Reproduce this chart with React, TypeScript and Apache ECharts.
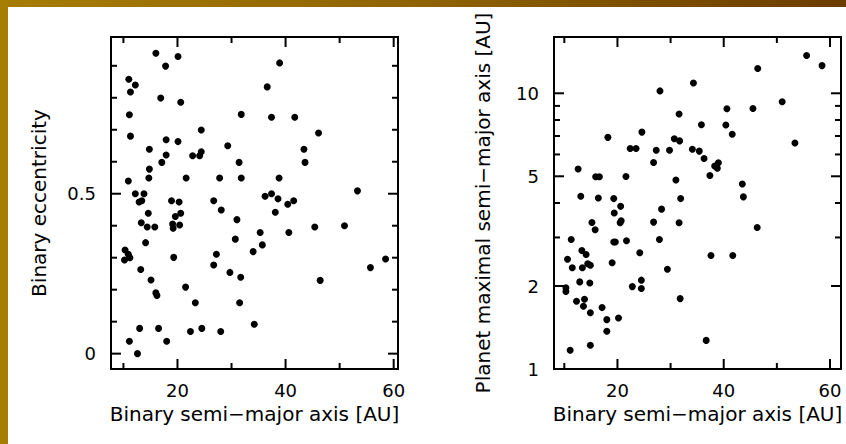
import React, { useEffect, useRef } from "react";
import * as echarts from "echarts";

// Left panel: binary semi-major axis [AU] vs binary eccentricity
const eccPoints: [number, number][] = [
  [16.0, 0.939], [20.1, 0.929], [17.8, 0.899], [38.9, 0.909], [11.0, 0.858], [12.2, 0.84], [11.3, 0.818],
  [36.6, 0.834], [16.9, 0.799], [20.6, 0.786], [31.8, 0.748], [11.1, 0.747], [37.4, 0.739], [41.7, 0.739],
  [24.4, 0.699], [46.1, 0.69], [11.3, 0.68], [17.9, 0.669], [20.1, 0.663], [29.3, 0.65], [14.8, 0.639],
  [43.4, 0.639], [17.9, 0.621], [22.8, 0.619], [24.1, 0.619], [24.4, 0.631], [17.1, 0.598], [31.4, 0.598],
  [43.6, 0.598], [14.8, 0.577], [14.7, 0.549], [21.6, 0.549], [27.8, 0.549], [31.8, 0.549], [38.8, 0.549],
  [10.9, 0.54], [12.2, 0.5], [13.8, 0.5], [12.9, 0.474], [13.4, 0.478], [53.3, 0.509], [36.2, 0.492],
  [37.4, 0.5], [38.6, 0.484], [18.9, 0.478], [20.3, 0.474], [26.7, 0.478], [40.4, 0.467], [41.5, 0.478],
  [28.1, 0.449], [14.6, 0.439], [20.6, 0.439], [19.6, 0.429], [38.1, 0.442], [31.0, 0.419], [13.3, 0.409],
  [14.4, 0.396], [15.8, 0.396], [19.1, 0.405], [19.2, 0.392], [20.4, 0.402], [45.4, 0.396], [50.9, 0.4],
  [35.3, 0.379], [40.6, 0.379], [30.7, 0.358], [35.7, 0.34], [14.1, 0.347], [10.3, 0.324], [10.9, 0.311],
  [11.2, 0.3], [10.2, 0.293], [19.3, 0.301], [34.0, 0.319], [27.2, 0.311], [26.7, 0.277], [58.5, 0.296],
  [55.7, 0.269], [13.2, 0.263], [29.7, 0.254], [31.7, 0.239], [15.1, 0.23], [46.4, 0.229], [16.0, 0.19],
  [16.2, 0.182], [21.5, 0.208], [23.3, 0.159], [31.5, 0.159], [34.2, 0.092], [13.0, 0.079], [16.5, 0.079],
  [22.4, 0.069], [24.5, 0.079], [28.0, 0.069], [11.1, 0.039], [18.0, 0.039], [12.6, 0.0],
];

// Right panel: binary semi-major axis [AU] vs planet maximal semi-major axis [AU]
const planetPoints: [number, number][] = [
  [55.6, 13.7], [58.5, 12.6], [46.4, 12.3], [34.3, 10.9], [28.0, 10.2], [51.0, 9.32], [40.6, 8.79],
  [45.5, 8.8], [31.6, 8.41], [35.8, 7.69], [40.4, 7.67], [24.6, 7.23], [41.6, 7.1], [18.2, 6.92],
  [30.7, 6.84], [31.7, 6.72], [53.4, 6.6], [22.4, 6.31], [23.5, 6.31], [27.3, 6.21], [29.8, 6.21],
  [34.1, 6.27], [35.4, 6.17], [36.3, 5.8], [26.8, 5.61], [38.3, 5.45], [39.0, 5.6], [38.8, 5.35],
  [37.4, 5.03], [12.6, 5.31], [15.9, 4.98], [16.6, 4.98], [21.6, 4.99], [31.0, 4.85], [43.5, 4.69],
  [13.1, 4.23], [16.4, 4.17], [19.3, 4.15], [31.9, 4.15], [43.7, 4.21], [20.6, 3.89], [28.3, 3.8],
  [19.4, 3.68], [15.2, 3.4], [20.5, 3.39], [20.7, 3.45], [26.8, 3.41], [31.6, 3.39], [46.3, 3.26],
  [15.8, 3.2], [11.3, 2.95], [19.3, 2.89], [19.6, 2.89], [21.7, 2.92], [27.9, 2.95], [13.3, 2.69],
  [14.1, 2.6], [24.2, 2.64], [37.6, 2.58], [41.7, 2.58], [10.6, 2.5], [11.5, 2.33], [13.4, 2.33],
  [14.4, 2.41], [14.9, 2.38], [19.0, 2.43], [29.4, 2.3], [12.9, 2.07], [14.8, 2.05], [24.5, 2.1],
  [24.5, 1.96], [22.8, 1.99], [10.3, 1.97], [10.3, 1.91], [12.3, 1.76], [13.8, 1.79], [13.6, 1.69],
  [17.1, 1.67], [14.9, 1.6], [31.8, 1.8], [18.0, 1.51], [20.2, 1.53], [18.0, 1.37], [14.9, 1.22],
  [36.7, 1.27], [11.1, 1.17],
];

const leftXRange = [7.7, 60.8];
const leftYRange = [-0.048, 0.99];
const rightXRange = [8.06, 62.07];
const rightYRange = [1, 16];

const xMajorTicks = [20, 40, 60];
const xMinorTicks = [10, 30, 50];
const leftYMajorTicks = [0, 0.5];
const leftYMinorTicks = [0.1, 0.2, 0.3, 0.4, 0.6, 0.7, 0.8, 0.9];
const rightYMajorTicks = [1, 2, 5, 10];
const rightYMinorTicks = [3, 4, 6, 7, 8, 9];

const xTitle = "Binary semi\u2212major axis [AU]";
const leftYTitle = "Binary eccentricity";
const rightYTitle = "Planet maximal semi\u2212major axis [AU]";

const FONT = "DejaVu Sans";

export default function App() {
  const ref = useRef<HTMLDivElement>(null);

  useEffect(() => {
    if (!ref.current) return;
    const chart = echarts.init(ref.current, null, { renderer: "svg" });

    const labelStyle = { fontSize: 18, fontFamily: FONT, color: "#000" };
    const nameStyle = { fontSize: 20, fontFamily: FONT, color: "#000" };

    chart.setOption({
      animation: false,
      grid: [
        { left: 111, right: 448, top: 37, bottom: 75, show: true, borderColor: "#000", borderWidth: 2, backgroundColor: "transparent" },
        { left: 554, right: 5, top: 37, bottom: 75, show: true, borderColor: "#000", borderWidth: 2, backgroundColor: "transparent" },
      ],
      xAxis: [
        {
          gridIndex: 0, type: "value", min: leftXRange[0], max: leftXRange[1],
          axisLine: { show: false }, axisTick: { show: false }, splitLine: { show: false },
          axisLabel: { ...labelStyle, customValues: xMajorTicks, margin: 12 },
          name: xTitle, nameLocation: "middle", nameGap: 33, nameTextStyle: nameStyle,
        },
        {
          gridIndex: 1, type: "value", min: rightXRange[0], max: rightXRange[1],
          axisLine: { show: false }, axisTick: { show: false }, splitLine: { show: false },
          axisLabel: { ...labelStyle, customValues: xMajorTicks, margin: 12 },
          name: xTitle, nameLocation: "middle", nameGap: 33, nameTextStyle: nameStyle,
        },
      ],
      yAxis: [
        {
          gridIndex: 0, type: "value", min: leftYRange[0], max: leftYRange[1],
          axisLine: { show: false }, axisTick: { show: false }, splitLine: { show: false },
          axisLabel: { ...labelStyle, customValues: leftYMajorTicks, margin: 15 },
          name: leftYTitle, nameLocation: "middle", nameGap: 62, nameTextStyle: nameStyle,
        },
        {
          gridIndex: 1, type: "log", logBase: 10, min: rightYRange[0], max: rightYRange[1],
          axisLine: { show: false }, axisTick: { show: false }, splitLine: { show: false },
          axisLabel: { show: false },
          name: rightYTitle, nameLocation: "middle", nameGap: 61, nameTextStyle: nameStyle,
        },
      ],
      series: [
        {
          type: "scatter", xAxisIndex: 0, yAxisIndex: 0, data: eccPoints,
          symbol: "circle", symbolSize: 7, itemStyle: { color: "#000", opacity: 1 }, silent: true,
        },
        {
          type: "scatter", xAxisIndex: 1, yAxisIndex: 1, data: planetPoints,
          symbol: "circle", symbolSize: 7, itemStyle: { color: "#000", opacity: 1 }, silent: true,
        },
      ],
    });

    // Tick marks on all four sides, positioned through the library's scales
    const elements: any[] = [];
    const line = (x1: number, y1: number, x2: number, y2: number) =>
      elements.push({
        type: "line", silent: true, z: 10,
        shape: { x1, y1, x2, y2 },
        style: { stroke: "#000", lineWidth: 2 },
      });

    const addTicks = (
      g: number, xr: number[], yr: number[],
      xMaj: number[], xMin: number[], yMaj: number[], yMin: number[],
    ) => {
      const bl = chart.convertToPixel({ gridIndex: g }, [xr[0], yr[0]]) as number[];
      const tr = chart.convertToPixel({ gridIndex: g }, [xr[1], yr[1]]) as number[];
      const left = bl[0], bottom = bl[1], right = tr[0], top = tr[1];
      const xt = (vals: number[], len: number) =>
        vals.forEach((v) => {
          const px = (chart.convertToPixel({ gridIndex: g }, [v, yr[0]]) as number[])[0];
          line(px, bottom, px, bottom - len);
          line(px, top, px, top + len);
        });
      const yt = (vals: number[], len: number) =>
        vals.forEach((v) => {
          const py = (chart.convertToPixel({ gridIndex: g }, [xr[0], v]) as number[])[1];
          line(left, py, left + len, py);
          line(right, py, right - len, py);
        });
      xt(xMaj, 10); xt(xMin, 6); yt(yMaj, 10); yt(yMin, 6);
      return { left };
    };

    addTicks(0, leftXRange, leftYRange, xMajorTicks, xMinorTicks, leftYMajorTicks, leftYMinorTicks);
    const r = addTicks(1, rightXRange, rightYRange, xMajorTicks, xMinorTicks, rightYMajorTicks, rightYMinorTicks);

    // Log-axis labels
    rightYMajorTicks.forEach((v) => {
      const py = (chart.convertToPixel({ gridIndex: 1 }, [rightXRange[0], v]) as number[])[1];
      elements.push({
        type: "text", silent: true, x: r.left - 15, y: py,
        style: {
          text: String(v), font: `18px "${FONT}"`, fill: "#000",
          textAlign: "right", align: "right", textVerticalAlign: "middle", verticalAlign: "middle",
        },
      });
    });

    chart.setOption({ graphic: { elements } });

    return () => chart.dispose();
  }, []);

  return (
    <div
      style={{
        position: "fixed", left: 0, top: 0, width: 846, height: 444, overflow: "hidden",
        background: "linear-gradient(90deg, #a67d00 0%, #8f6300 50%, #6a3d00 100%)",
      }}
    >
      <div style={{ position: "absolute", left: 8, top: 7, right: 0, bottom: 0, background: "#fff" }} />
      <div ref={ref} style={{ position: "absolute", left: 0, top: 0, width: 846, height: 444 }} />
    </div>
  );
}
